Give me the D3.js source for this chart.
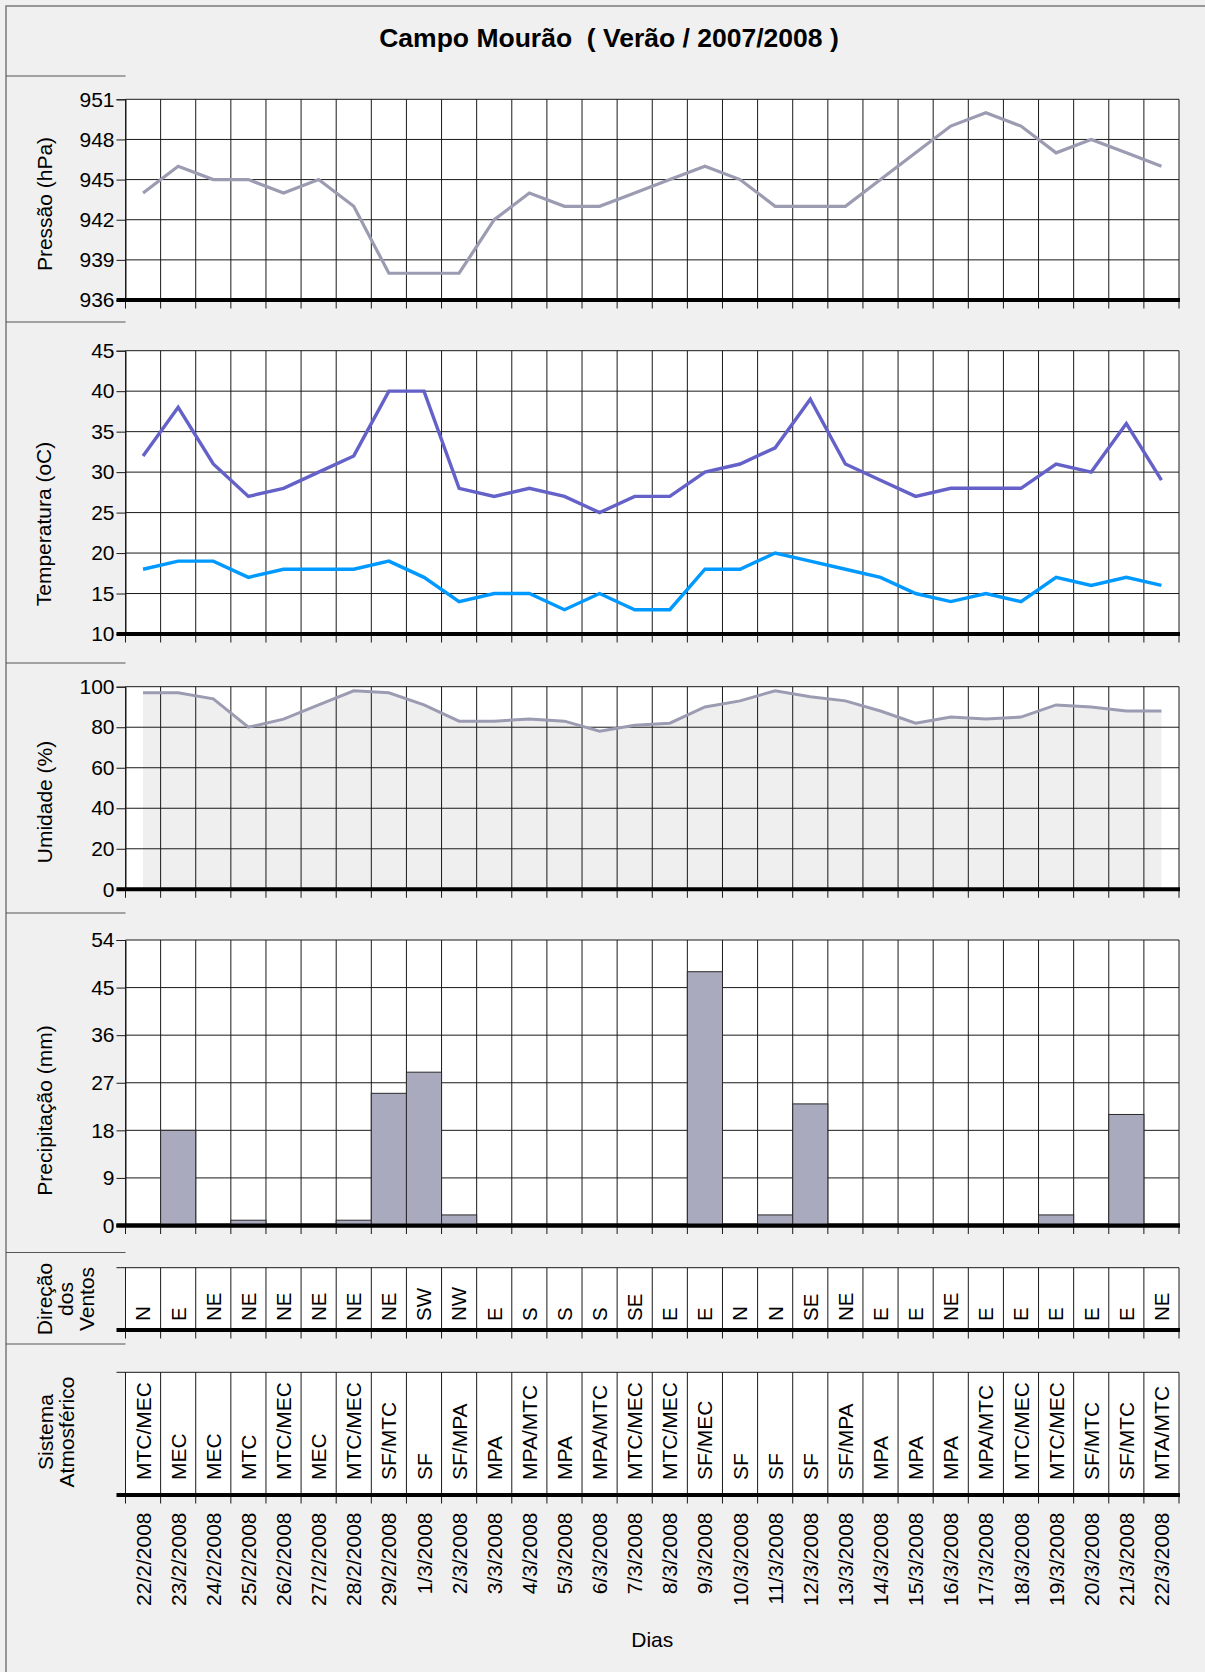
<!DOCTYPE html>
<html>
<head>
<meta charset="utf-8">
<script src="https://cdn.jsdelivr.net/npm/d3@7"></script>
<style>
  html, body { margin: 0; padding: 0; background: #f0f0f0; }
  svg { display: block; font-family: "Liberation Sans", Arial, Helvetica, sans-serif; }
  .titulo { white-space: pre; }
</style>
</head>
<body>
<svg id="chart" width="1205" height="1672"></svg>
<script>
// ---- Dados diários (Campo Mourão, verão 2007/2008) ----
const dias = ["22/2/2008","23/2/2008","24/2/2008","25/2/2008","26/2/2008","27/2/2008","28/2/2008","29/2/2008",
  "1/3/2008","2/3/2008","3/3/2008","4/3/2008","5/3/2008","6/3/2008","7/3/2008","8/3/2008","9/3/2008","10/3/2008",
  "11/3/2008","12/3/2008","13/3/2008","14/3/2008","15/3/2008","16/3/2008","17/3/2008","18/3/2008","19/3/2008",
  "20/3/2008","21/3/2008","22/3/2008"];

const pressao = [944,946,945,945,944,945,943,938,938,938,942,944,943,943,944,945,946,945,943,943,943,945,947,949,950,949,947,948,947,946];
const tempMax = [32,38,31,27,28,30,32,40,40,28,27,28,27,25,27,27,30,31,33,39,31,29,27,28,28,28,31,30,36,29];
const tempMin = [18,19,19,17,18,18,18,19,17,14,15,15,13,15,13,13,18,18,20,19,18,17,15,14,15,14,17,16,17,16];
const umidade = [97,97,94,80,84,91,98,97,91,83,83,84,83,78,81,82,90,93,98,95,93,88,82,85,84,85,91,90,88,88];
const precipitacao = [0,18,0,1,0,0,1,25,29,2,0,0,0,0,0,0,48,0,2,23,0,0,0,0,0,0,2,0,21,0];
const ventos = ["N","E","NE","NE","NE","NE","NE","NE","SW","NW","E","S","S","S","SE","E","E","N","N","SE",
  "NE","E","E","NE","E","E","E","E","E","NE"];
const sistemas = ["MTC/MEC","MEC","MEC","MTC","MTC/MEC","MEC","MTC/MEC","SF/MTC","SF","SF/MPA","MPA","MPA/MTC",
  "MPA","MPA/MTC","MTC/MEC","MTC/MEC","SF/MEC","SF","SF","SF","SF/MPA","MPA","MPA","MPA","MPA/MTC","MTC/MEC",
  "MTC/MEC","SF/MTC","SF/MTC","MTA/MTC"];

const ticksPressao = [936,939,942,945,948,951];
const ticksTemp = [10,15,20,25,30,35,40,45];
const ticksUmidade = [0,20,40,60,80,100];
const ticksPrecip = [0,9,18,27,36,45,54];

// ---- Layout ----
const svg = d3.select("#chart");
const W = 1205, H = 1672;
const left = 125.5, right = 1179;
const FONT = 21;

const x = d3.scaleBand().domain(dias).range([left, right]).padding(0);
const cx = d => x(d) + x.bandwidth() / 2;
const bounds = dias.map(d => x(d)).concat([right]);

// fundo e moldura
svg.append("rect").attr("width", W).attr("height", H).attr("fill", "#f0f0f0");
svg.append("path")
  .attr("d", `M6,${H + 5} L6,6 L${W + 5},6`)
  .attr("fill", "none").attr("stroke", "#7a7a7a").attr("stroke-width", 1.5);

// título
svg.append("text")
  .attr("class", "titulo")
  .attr("x", 609).attr("y", 46.5)
  .attr("text-anchor", "middle")
  .attr("font-size", 26.5).attr("font-weight", "bold")
  .text("Campo Mourão  ( Verão / 2007/2008 )");

// separadores da coluna de títulos
[76, 322, 663, 913, 1252.5, 1344].forEach(yy => {
  svg.append("line").attr("x1", 6).attr("x2", left).attr("y1", yy).attr("y2", yy)
    .attr("stroke", "#555").attr("stroke-width", 1.2);
});

// título do eixo (rotacionado, uma ou mais linhas)
function axisTitle(lines, baselines, cy) {
  lines.forEach((t, i) => {
    svg.append("text")
      .attr("transform", `translate(${baselines[i]},${cy}) rotate(-90)`)
      .attr("text-anchor", "middle")
      .attr("font-size", FONT)
      .text(t);
  });
}

// painel com eixo y numérico
function panel(y0, y1, domain, ticks) {
  const y = d3.scaleLinear().domain(domain).range([y1, y0]);
  const g = svg.append("g");
  g.append("rect").attr("x", left).attr("y", y0).attr("width", right - left).attr("height", y1 - y0)
    .attr("fill", "#ffffff");
  const layer = g.append("g");
  const grid = g.append("g");
  ticks.forEach(t => {
    grid.append("line").attr("x1", left).attr("x2", right).attr("y1", y(t)).attr("y2", y(t))
      .attr("stroke", "#1a1a1a").attr("stroke-width", 1);
  });
  bounds.forEach(bx => {
    grid.append("line").attr("x1", bx).attr("x2", bx).attr("y1", y0).attr("y2", y1)
      .attr("stroke", "#1a1a1a").attr("stroke-width", 1);
  });
  // eixo y
  const ax = g.append("g").attr("transform", `translate(${left},0)`)
    .call(d3.axisLeft(y).tickValues(ticks).tickSize(9).tickPadding(2).tickFormat(d3.format("d")));
  ax.select(".domain").attr("stroke", "#1a1a1a");
  ax.selectAll(".tick line").attr("stroke", "#1a1a1a");
  ax.selectAll(".tick text").attr("font-size", FONT).attr("font-family", null).attr("fill", "#000");
  // ticks do eixo x e linha base
  bounds.forEach(bx => {
    g.append("line").attr("x1", bx).attr("x2", bx).attr("y1", y1).attr("y2", y1 + 8.5)
      .attr("stroke", "#1a1a1a").attr("stroke-width", 1);
  });
  g.append("line").attr("x1", left - 9).attr("x2", right + 1).attr("y1", y1).attr("y2", y1)
    .attr("stroke", "#000").attr("stroke-width", 4);
  return { y, layer, g };
}

// ---- Pressão ----
const pP = panel(99.3, 300, [936, 951], ticksPressao);
pP.g.append("path").datum(pressao)
  .attr("fill", "none").attr("stroke", "#9b9bb2").attr("stroke-width", 3.2).attr("stroke-linejoin", "miter")
  .attr("d", d3.line().x((d, i) => cx(dias[i])).y(d => pP.y(d)));
axisTitle(["Pressão (hPa)"], [51.5], 204);

// ---- Temperatura ----
const pT = panel(350.7, 634, [10, 45], ticksTemp);
pT.g.append("path").datum(tempMax)
  .attr("fill", "none").attr("stroke", "#6461c8").attr("stroke-width", 3.4)
  .attr("d", d3.line().x((d, i) => cx(dias[i])).y(d => pT.y(d)));
pT.g.append("path").datum(tempMin)
  .attr("fill", "none").attr("stroke", "#0099ff").attr("stroke-width", 3.4)
  .attr("d", d3.line().x((d, i) => cx(dias[i])).y(d => pT.y(d)));
axisTitle(["Temperatura (oC)"], [51], 524);

// ---- Umidade ----
const pU = panel(686.7, 889.3, [0, 100], ticksUmidade);
pU.layer.append("path").datum(umidade)
  .attr("fill", "#efefef")
  .attr("d", d3.area().x((d, i) => cx(dias[i])).y0(pU.y(0)).y1(d => pU.y(d)));
pU.g.append("path").datum(umidade)
  .attr("fill", "none").attr("stroke", "#9b9bb2").attr("stroke-width", 3)
  .attr("d", d3.line().x((d, i) => cx(dias[i])).y(d => pU.y(d)));
axisTitle(["Umidade (%)"], [52], 802);

// ---- Precipitação ----
const pR = panel(940, 1225.5, [0, 54], ticksPrecip);
pR.g.selectAll("rect.bar").data(precipitacao.map((v, i) => ({ v, d: dias[i] })).filter(o => o.v > 0))
  .enter().append("rect").attr("class", "bar")
  .attr("x", o => x(o.d)).attr("width", x.bandwidth())
  .attr("y", o => pR.y(o.v)).attr("height", o => pR.y(0) - pR.y(o.v))
  .attr("fill", "#aaaabf").attr("stroke", "#2a2a2a").attr("stroke-width", 1);
// linha base por cima das barras
pR.g.append("line").attr("x1", left - 9).attr("x2", right + 1).attr("y1", pR.y(0)).attr("y2", pR.y(0))
  .attr("stroke", "#000").attr("stroke-width", 4);
axisTitle(["Precipitação (mm)"], [52], 1110.5);

// ---- Painéis de texto (vento e sistema) ----
function textPanel(y0, y1, values, fontSize, startY) {
  const g = svg.append("g");
  g.append("rect").attr("x", left).attr("y", y0).attr("width", right - left).attr("height", y1 - y0)
    .attr("fill", "#ffffff");
  g.append("line").attr("x1", left - 9).attr("x2", right).attr("y1", y0).attr("y2", y0)
    .attr("stroke", "#1a1a1a").attr("stroke-width", 1);
  g.append("line").attr("x1", left).attr("x2", left).attr("y1", y0).attr("y2", y1)
    .attr("stroke", "#1a1a1a").attr("stroke-width", 1);
  bounds.forEach(bx => {
    g.append("line").attr("x1", bx).attr("x2", bx).attr("y1", y0).attr("y2", y1 + 8.5)
      .attr("stroke", "#1a1a1a").attr("stroke-width", 1);
  });
  g.append("line").attr("x1", left - 9).attr("x2", right + 1).attr("y1", y1).attr("y2", y1)
    .attr("stroke", "#000").attr("stroke-width", 4);
  values.forEach((v, i) => {
    g.append("text")
      .attr("transform", `translate(${cx(dias[i]) + fontSize * 0.36},${startY}) rotate(-90)`)
      .attr("text-anchor", "start")
      .attr("font-size", fontSize)
      .text(v);
  });
}

textPanel(1267.7, 1330, ventos, 20.5, 1321);
axisTitle(["Direção", "dos", "Ventos"], [52, 73, 94], 1299);

textPanel(1372.3, 1495, sistemas, FONT, 1480);
axisTitle(["Sistema", "Atmosférico"], [52.5, 73.5], 1432);

// ---- Datas ----
dias.forEach(d => {
  svg.append("text")
    .attr("transform", `translate(${cx(d) + FONT * 0.36},1512.5) rotate(-90)`)
    .attr("text-anchor", "end")
    .attr("font-size", FONT)
    .text(d);
});

svg.append("text")
  .attr("x", (left + right) / 2).attr("y", 1646.5)
  .attr("text-anchor", "middle").attr("font-size", FONT)
  .text("Dias");
</script>
</body>
</html>
